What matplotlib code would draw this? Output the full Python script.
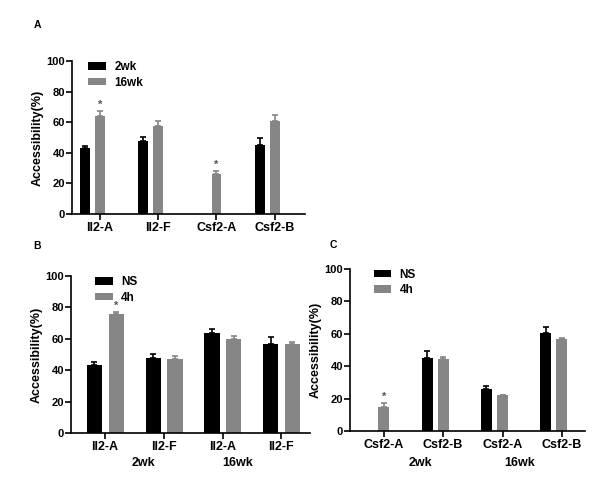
import numpy as np
import matplotlib
matplotlib.use("Agg")
import matplotlib.pyplot as plt
from matplotlib.patches import Patch

plt.rcParams['font.family'] = ['Liberation Sans', 'DejaVu Sans']
plt.rcParams['font.weight'] = 'bold'

# panel A
a_labels = ['Il2-A', 'Il2-F', 'Csf2-A', 'Csf2-B']
a_2wk = [43, 48, 0, 45]
a_2wk_err = [1.5, 2.5, 0, 4.5]
a_16wk = [64, 57.5, 26, 61]
a_16wk_err = [3, 3.5, 2, 3.5]
a_star = [0, 2]

# panel B
b_labels = ['Il2-A', 'Il2-F', 'Il2-A', 'Il2-F']
b_ns = [43.5, 48, 64, 57]
b_ns_err = [1.5, 2.5, 2.5, 4]
b_4h = [76, 47, 60, 56.5]
b_4h_err = [1, 2, 1.5, 1.5]
b_star = [0]

# panel C
c_labels = ['Csf2-A', 'Csf2-B', 'Csf2-A', 'Csf2-B']
c_ns = [0, 45, 26, 60.5]
c_ns_err = [0, 4.5, 2, 3.5]
c_4h = [15, 44.5, 22, 57]
c_4h_err = [2, 1, 0.5, 0.5]
c_star = [0]

groups = ['2wk', '16wk']

BLACK = '#000000'
GRAY = '#868686'


def style_axis(ax, labels, xlim):
    ax.set_ylim(0, 100)
    ax.set_xlim(*xlim)
    ax.set_yticks(np.arange(0, 101, 20))
    ax.set_xticks(np.arange(len(labels)))
    ax.set_xticklabels(labels, fontsize=9, fontweight='bold')
    ax.tick_params(axis='y', labelsize=8, width=1.2, length=4, pad=1)
    ax.tick_params(axis='x', width=1.2, length=4, pad=2)
    for t in ax.get_yticklabels():
        t.set_fontweight('bold')
    ax.spines['top'].set_visible(False)
    ax.spines['right'].set_visible(False)
    ax.spines['left'].set_linewidth(1.2)
    ax.spines['bottom'].set_linewidth(1.2)
    ax.set_ylabel('Accessibility(%)', fontsize=9, fontweight='bold', labelpad=2)


def draw_bars(ax, x, vals, errs, color, width):
    ax.bar(x, vals, width=width, color=color, zorder=2)
    x = np.asarray(x, dtype=float)
    v = np.asarray(vals, dtype=float)
    e = np.asarray(errs, dtype=float)
    keep = v > 0
    ax.errorbar(x[keep], v[keep], yerr=[np.zeros(keep.sum()), e[keep]],
                fmt='none', ecolor=color, elinewidth=1.2, capsize=2, capthick=1.2, zorder=1)


def add_legend(ax, names, anchor):
    handles = [Patch(facecolor=BLACK), Patch(facecolor=GRAY)]
    leg = ax.legend(handles, names, loc='upper left', bbox_to_anchor=anchor,
                    frameon=False, fontsize=8.5, handlelength=1.5, handleheight=0.6,
                    labelspacing=0.3, handletextpad=0.7, borderaxespad=0)
    for t in leg.get_texts():
        t.set_fontweight('bold')


fig = plt.figure(figsize=(6, 4.9), dpi=100)

# A
axA = fig.add_axes([72 / 600, 1 - 214 / 490, 233 / 600, 153 / 490])
xa = np.arange(4)
draw_bars(axA, xa - 0.26, a_2wk, a_2wk_err, BLACK, 0.17)
draw_bars(axA, xa, a_16wk, a_16wk_err, GRAY, 0.17)
for i in a_star:
    axA.text(i, a_16wk[i] + a_16wk_err[i] + 1, '*', ha='center', va='bottom',
             fontsize=8, color='#555555')
style_axis(axA, a_labels, (-0.48, 3.52))
add_legend(axA, ['2wk', '16wk'], (0.05, 1.03))

# B
axB = fig.add_axes([71 / 600, 1 - 433 / 490, 239 / 600, 157 / 490])
xb = np.arange(4)
draw_bars(axB, xb - 0.18, b_ns, b_ns_err, BLACK, 0.26)
draw_bars(axB, xb + 0.19, b_4h, b_4h_err, GRAY, 0.26)
for i in b_star:
    axB.text(i + 0.19, b_4h[i] + b_4h_err[i] + 1, '*', ha='center', va='bottom',
             fontsize=8, color='#555555')
style_axis(axB, b_labels, (-0.58, 3.49))
add_legend(axB, ['NS', '4h'], (0.08, 1.03))
for gx, g in zip([0.65, 2.25], groups):
    axB.text(gx, -0.19, g, transform=axB.get_xaxis_transform(), ha='center',
             va='center', fontsize=9, fontweight='bold')

# C
axC = fig.add_axes([350 / 600, 1 - 431 / 490, 235 / 600, 162 / 490])
xc = np.arange(4)
draw_bars(axC, xc - 0.27, c_ns, c_ns_err, BLACK, 0.19)
draw_bars(axC, xc, c_4h, c_4h_err, GRAY, 0.19)
for i in c_star:
    axC.text(i, c_4h[i] + c_4h_err[i] + 1, '*', ha='center', va='bottom',
             fontsize=8, color='#555555')
style_axis(axC, c_labels, (-0.57, 3.39))
add_legend(axC, ['NS', '4h'], (0.08, 1.03))
for gx, g in zip([0.61, 2.29], groups):
    axC.text(gx, -0.20, g, transform=axC.get_xaxis_transform(), ha='center',
             va='center', fontsize=9, fontweight='bold')

# panel letters
fig.text(37 / 600, 1 - 25 / 490, 'A', fontsize=7.5, fontweight='bold', ha='center', va='center')
fig.text(37 / 600, 1 - 246 / 490, 'B', fontsize=7.5, fontweight='bold', ha='center', va='center')
fig.text(333 / 600, 1 - 245 / 490, 'C', fontsize=7.5, fontweight='bold', ha='center', va='center')

fig.savefig('out.png', dpi=100)
